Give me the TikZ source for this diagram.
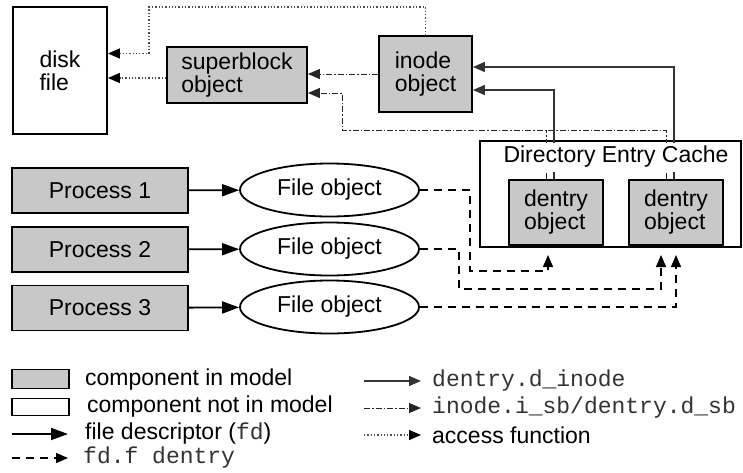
\documentclass[tikz,border=0pt]{standalone}
\usepackage{fontspec}
\setmainfont{Liberation Sans}
\setmonofont{Liberation Mono}
\usetikzlibrary{shapes,arrows.meta}
\pgfdeclarelayer{boxlayer}
\pgfdeclarelayer{edgelayer}
\pgfdeclarelayer{nodelayer}
\pgfsetlayers{boxlayer,edgelayer,nodelayer,main}
\definecolor{compgray}{RGB}{200,200,200}
\tikzset{font=\fontsize{23}{23}\selectfont}
\tikzstyle{none}=[inner sep=0pt]
\tikzstyle{model}=[rectangle,draw,fill=compgray,line width=1.8pt,inner sep=0pt,align=left]
\tikzstyle{nomodel}=[rectangle,draw,fill=white,line width=1.8pt,inner sep=0pt,align=left]
\tikzstyle{dentry}=[style=model,minimum width=94pt,minimum height=65pt]
\tikzstyle{process}=[style=model,minimum width=176pt,minimum height=45pt]
\tikzstyle{fileobj}=[ellipse,draw,fill=white,line width=1.8pt,inner sep=0pt,minimum width=179pt,minimum height=53pt]
\tikzstyle{cachebox}=[rectangle,draw,fill=white,line width=1.8pt,minimum width=261pt,minimum height=106pt]
\tikzstyle{cachetitle}=[fill=white,inner xsep=1pt,inner ysep=4pt,text height=16pt,text depth=5pt]
\tikzstyle{legtext}=[anchor=west,inner sep=0pt]
\tikzstyle{codetext}=[style=legtext,text=black!80]
\tikzstyle{fdarrow}=[line width=1.8pt,-{Triangle[length=17pt,width=12pt]}]
\tikzstyle{dentarrow}=[line width=1.3pt,dash pattern=on 8pt off 6pt,-{Triangle[length=12pt,width=10pt]}]
\tikzstyle{inodearrow}=[line width=1.4pt,black!80,-{Triangle[length=12pt,width=10pt]}]
\tikzstyle{sbarrow}=[line width=1pt,black!85,dash pattern=on 6pt off 2pt on 1.5pt off 2pt,-{Triangle[length=12pt,width=10pt]}]
\tikzstyle{sbline}=[line width=1pt,black!85,dash pattern=on 6pt off 2pt on 1.5pt off 2pt]
\tikzstyle{accarrow}=[line width=1.3pt,black!70,dash pattern=on 1.3pt off 2pt,-{Triangle[length=12pt,width=10pt,fill=black,color=black]}]

\begin{document}
\begin{tikzpicture}[x=1pt,y=-1pt]
	\useasboundingbox (0,0) rectangle (743,472);
	\begin{pgfonlayer}{boxlayer}
		\node [style=cachebox] (cache) at (610.5,194) {};
	\end{pgfonlayer}
	\begin{pgfonlayer}{nodelayer}
		\node [style=nomodel, minimum width=94pt, minimum height=127pt] (disk) at (60,70.5) {disk\\file};
		\node [style=model, minimum width=140pt, minimum height=56pt] (sblock) at (237,75) {superblock\\object};
		\node [style=model, minimum width=93pt, minimum height=76pt] (inode) at (425.5,74) {inode\\object};
		\node [style=cachetitle] (title) at (616,157) {Directory Entry Cache};
		\node [style=dentry] (dent1) at (556,212.5) {dentry\\object};
		\node [style=dentry] (dent2) at (676,212.5) {dentry\\object};
		\node [style=process] (proc1) at (100,190.5) {Process 1};
		\node [style=process] (proc2) at (100,249.5) {Process 2};
		\node [style=process] (proc3) at (100,308) {Process 3};
		\node [style=fileobj] (file1) at (329.5,190) {File object};
		\node [style=fileobj] (file2) at (329.5,249) {File object};
		\node [style=fileobj] (file3) at (329.5,307) {File object};
		\coordinate (t1) at (548,255);
		\coordinate (t2) at (661,255);
		\coordinate (t3) at (676,255);
		\coordinate (sbbend) at (342,130);
		\coordinate (accbend) at (149,7);
		% legend
		\node [style=model, minimum width=57pt, minimum height=19pt] (leg1) at (40.5,379) {};
		\node [style=nomodel, minimum width=57pt, minimum height=17pt] (leg2) at (40.5,407) {};
		\node [style=legtext] (leg1t) at (85,380) {component in model};
		\node [style=legtext] (leg2t) at (87,407) {component not in model};
		\node [style=legtext] (leg3t) at (85,434) {file descriptor ({\color{black!80}\texttt{fd}})};
		\node [style=codetext] (leg4t) at (83,458) {\texttt{fd.f dentry}};
		\node [style=codetext] (leg5t) at (432,381) {\texttt{dentry.d\_inode}};
		\node [style=codetext] (leg6t) at (432,408) {\texttt{inode.i\_sb/dentry.d\_sb}};
		\node [style=legtext] (leg7t) at (432,435) {access function};
		\coordinate (l3a) at (12,434);
		\coordinate (l3b) at (68,434);
		\coordinate (l4a) at (12,458);
		\coordinate (l4b) at (68,458);
		\coordinate (l5a) at (364,381);
		\coordinate (l5b) at (421,381);
		\coordinate (l6a) at (364,408);
		\coordinate (l6b) at (421,408);
		\coordinate (l7a) at (364,435);
		\coordinate (l7b) at (421,435);
	\end{pgfonlayer}
	\begin{pgfonlayer}{edgelayer}
		\draw [style=fdarrow] (proc1) to (file1);
		\draw [style=fdarrow] (proc2) to (file2);
		\draw [style=fdarrow] (proc3) to (file3);
		\draw [style=dentarrow] (file1.east) -| (470,271) -| (t1);
		\draw [style=dentarrow] (file2.east) -| (459,289) -| (t2);
		\draw [style=dentarrow] (file3.east) -| (t3);
		\draw [style=inodearrow] ([xshift=-2pt]dent1.north) |- ([yshift=-16pt]inode.east);
		\draw [style=inodearrow] ([xshift=-2pt]dent2.north) |- ([yshift=7pt]inode.east);
		\draw [style=sbarrow] ([xshift=-10pt]dent2.north) |- (sbbend) |- ([yshift=-18pt]sblock.east);
		\draw [style=sbline] ([xshift=-10pt]dent1.north) -- ([xshift=-10pt]dent1.north |- sbbend);
		\draw [style=sbarrow] (inode.west) -- (inode.west -| sblock.east);
		\draw [style=accarrow] (inode.north) |- (accbend) |- ([yshift=17pt]disk.east);
		\draw [style=accarrow] ([yshift=-3pt]sblock.west) -- ([yshift=-3pt]sblock.west -| disk.east);
		% legend
		\draw [style=fdarrow] (l3a) to (l3b);
		\draw [style=dentarrow] (l4a) to (l4b);
		\draw [style=inodearrow] (l5a) to (l5b);
		\draw [style=sbarrow] (l6a) to (l6b);
		\draw [style=accarrow] (l7a) to (l7b);
	\end{pgfonlayer}
\end{tikzpicture}
\end{document}
